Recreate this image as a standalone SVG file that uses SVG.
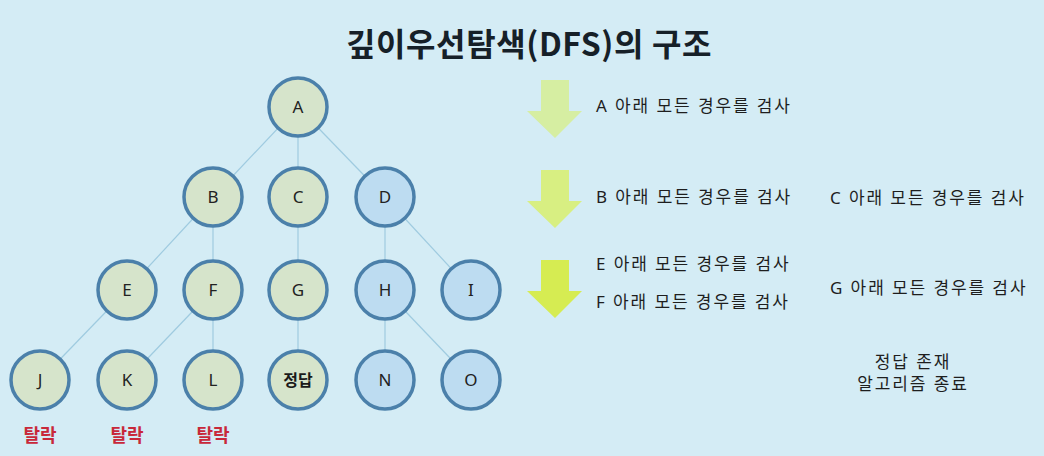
<svg xmlns="http://www.w3.org/2000/svg" width="1044" height="456" viewBox="0 0 1044 456">
<style>
.bg{fill:#d4ecf5}
.edge{stroke:#9fcbe0;stroke-width:1.2;fill:none}
.n circle{stroke:#4b80aa;stroke-width:3.5}
.g circle{fill:#d6e4cb}
.b circle{fill:#bddcf1}
.lbl{font-family:"Noto Sans","Noto Sans CJK KR",sans-serif;font-size:17px;fill:#222;text-anchor:middle}
.ans{font-family:"Noto Sans CJK KR",sans-serif;font-size:16px;font-weight:bold;fill:#1a1a1a;text-anchor:middle}
.txt{font-family:"Noto Sans","Noto Sans CJK KR",sans-serif;font-size:17px;letter-spacing:1.9px;fill:#1e1e1e}
.drop{font-family:"Noto Sans CJK KR",sans-serif;font-size:18px;font-weight:bold;fill:#c8283a;text-anchor:middle}
.title{font-family:"Noto Sans CJK KR",sans-serif;font-size:32px;letter-spacing:0.6px;font-weight:bold;fill:#162028;text-anchor:middle}
</style>
<rect class="bg" x="0" y="0" width="1044" height="456"/>
<text class="title" x="529" y="56">깊이우선탐색(DFS)의 구조</text>
<g id="connectors">
<line class="edge" x1="298" y1="107" x2="213" y2="197"/>
<line class="edge" x1="298" y1="107" x2="298" y2="197"/>
<line class="edge" x1="298" y1="107" x2="385" y2="197"/>
<line class="edge" x1="213" y1="197" x2="127" y2="290"/>
<line class="edge" x1="213" y1="197" x2="213" y2="290"/>
<line class="edge" x1="298" y1="197" x2="298" y2="290"/>
<line class="edge" x1="385" y1="197" x2="385" y2="290"/>
<line class="edge" x1="385" y1="197" x2="471" y2="290"/>
<line class="edge" x1="127" y1="290" x2="40" y2="380"/>
<line class="edge" x1="213" y1="290" x2="127" y2="380"/>
<line class="edge" x1="213" y1="290" x2="213" y2="380"/>
<line class="edge" x1="298" y1="290" x2="298" y2="380"/>
<line class="edge" x1="385" y1="290" x2="385" y2="380"/>
<line class="edge" x1="385" y1="290" x2="471" y2="380"/>
</g>
<g id="A" class="n g"><circle cx="298" cy="107" r="29"/><text class="lbl" x="298" y="113">A</text></g>
<g id="B" class="n g"><circle cx="213" cy="197" r="29"/><text class="lbl" x="213" y="203">B</text></g>
<g id="C" class="n g"><circle cx="298" cy="197" r="29"/><text class="lbl" x="298" y="203">C</text></g>
<g id="D" class="n b"><circle cx="385" cy="197" r="29"/><text class="lbl" x="385" y="203">D</text></g>
<g id="E" class="n g"><circle cx="127" cy="290" r="29"/><text class="lbl" x="127" y="296">E</text></g>
<g id="F" class="n g"><circle cx="213" cy="290" r="29"/><text class="lbl" x="213" y="296">F</text></g>
<g id="G" class="n g"><circle cx="298" cy="290" r="29"/><text class="lbl" x="298" y="296">G</text></g>
<g id="H" class="n b"><circle cx="385" cy="290" r="29"/><text class="lbl" x="385" y="296">H</text></g>
<g id="I" class="n b"><circle cx="471" cy="290" r="29"/><text class="lbl" x="471" y="296">I</text></g>
<g id="J" class="n g"><circle cx="40" cy="380" r="29"/><text class="lbl" x="40" y="386">J</text></g>
<g id="K" class="n g"><circle cx="127" cy="380" r="29"/><text class="lbl" x="127" y="386">K</text></g>
<g id="L" class="n g"><circle cx="213" cy="380" r="29"/><text class="lbl" x="213" y="386">L</text></g>
<g id="answer" class="n g"><circle cx="298" cy="380" r="29"/><text class="ans" x="298" y="386">정답</text></g>
<g id="N" class="n b"><circle cx="385" cy="380" r="29"/><text class="lbl" x="385" y="386">N</text></g>
<g id="O" class="n b"><circle cx="471" cy="380" r="29"/><text class="lbl" x="471" y="386">O</text></g>
<text class="drop" x="40" y="442">탈락</text>
<text class="drop" x="127" y="442">탈락</text>
<text class="drop" x="213" y="442">탈락</text>
<g id="arrows">
<polygon points="541,80 569,80 569,111 582,111 555,138 527,111 541,111" fill="#d6eea2"/>
<polygon points="541,170 569,170 569,201 582,201 555,228 527,201 541,201" fill="#d8ef82"/>
<polygon points="541,260 569,260 569,291 582,291 555,318 527,291 541,291" fill="#d6ec52"/>
</g>
<text class="txt" x="596" y="112">A 아래 모든 경우를 검사</text>
<text class="txt" x="596" y="203">B 아래 모든 경우를 검사</text>
<text class="txt" x="830" y="204">C 아래 모든 경우를 검사</text>
<text class="txt" x="596" y="270">E 아래 모든 경우를 검사</text>
<text class="txt" x="596" y="308">F 아래 모든 경우를 검사</text>
<text class="txt" x="830" y="294">G 아래 모든 경우를 검사</text>
<text class="txt" x="913" y="368" text-anchor="middle">정답 존재</text>
<text class="txt" x="913" y="390" text-anchor="middle">알고리즘 종료</text>
</svg>
